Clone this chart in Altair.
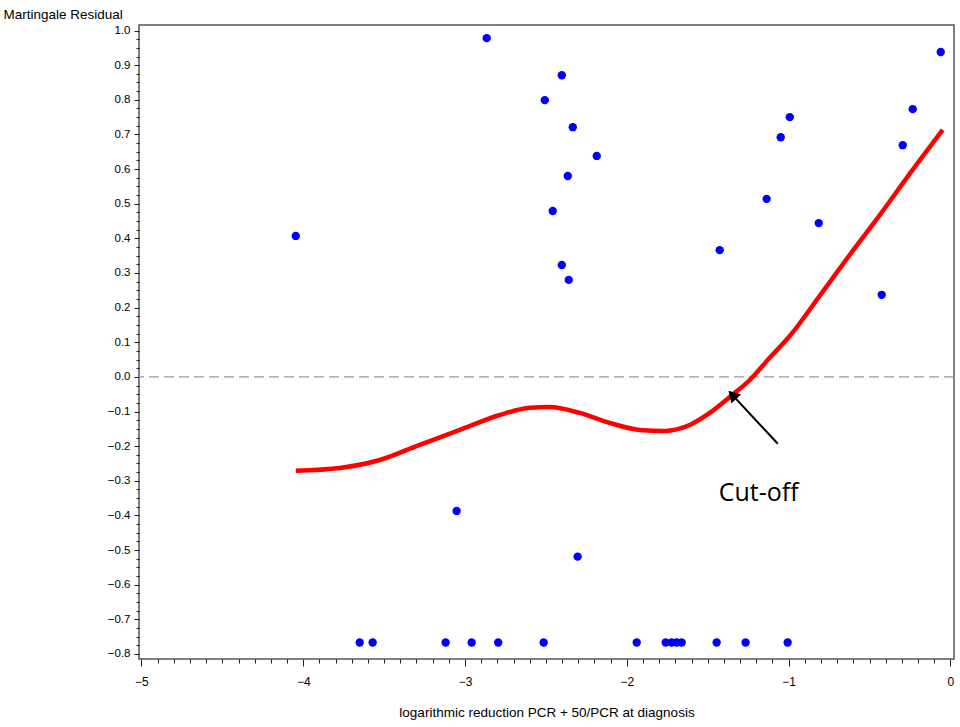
import altair as alt
import pandas as pd

# ---- data ----
pt_x = [-4.046, -2.866, -2.402, -2.507, -2.334, -2.186, -2.365, -2.458, -2.402, -2.359,
        -1.426, -1.136, -1.049, -0.993, -0.814, -0.425, -0.295, -0.233, -0.060,
        -3.052, -2.304,
        -3.651, -3.571, -3.120, -2.959, -2.795, -2.514, -1.939, -1.760, -1.723,
        -1.692, -1.661, -1.445, -1.266, -1.006]
pt_y = [0.407, 0.978, 0.871, 0.799, 0.721, 0.638, 0.580, 0.479, 0.323, 0.280,
        0.366, 0.514, 0.692, 0.750, 0.444, 0.237, 0.669, 0.773, 0.938,
        -0.387, -0.519,
        -0.767, -0.767, -0.767, -0.767, -0.767, -0.767, -0.767, -0.767, -0.767,
        -0.767, -0.767, -0.767, -0.767, -0.767]

curve_x = [-4.046, -3.774, -3.527, -3.280, -3.032, -2.785, -2.600, -2.477, -2.291,
           -2.106, -1.921, -1.767, -1.612, -1.488, -1.364, -1.240, -1.117, -0.993,
           -0.808, -0.623, -0.437, -0.252, -0.048]
curve_y = [-0.271, -0.263, -0.240, -0.196, -0.153, -0.110, -0.089, -0.087, -0.104,
           -0.133, -0.153, -0.156, -0.139, -0.104, -0.058, -0.009, 0.055, 0.118,
           0.234, 0.352, 0.467, 0.586, 0.713]

zero_line = [0.0]

arrow_tail = [-1.067, -0.193]
arrow_head = [-1.348, -0.052]
arrow_angle = [317]
label_text = ["Cut-off"]
label_pos = [-1.185, -0.358]

x_major = [-5, -4, -3, -2, -1, 0]
x_minor = [round(-5 + i * 0.1, 1) for i in range(51) if i % 10 != 0]
y_major = [round(-0.8 + i * 0.1, 1) for i in range(19)]
y_minor = [round(-0.8 + i * 0.025, 3) for i in range(73) if i % 4 != 0]

x_title = "logarithmic reduction PCR + 50/PCR at diagnosis"
y_title = "Martingale Residual"

# ---- tables ----
pts = pd.DataFrame({"x": pt_x, "y": pt_y})
crv = pd.DataFrame({"x": curve_x, "y": curve_y})
zero = pd.DataFrame({"y": zero_line})
arrow = pd.DataFrame({"x": [arrow_tail[0]], "y": [arrow_tail[1]],
                      "x2": [arrow_head[0]], "y2": [arrow_head[1]]})
head = pd.DataFrame({"x": [arrow_head[0]], "y": [arrow_head[1]], "a": arrow_angle})
lab = pd.DataFrame({"x": [label_pos[0]], "y": [label_pos[1]], "t": label_text})

xs = alt.Scale(domain=[-5.015, 0.022], nice=False, zero=False)
ys = alt.Scale(domain=[-0.8145, 1.016], nice=False, zero=False)

FONT = "Liberation Sans"

ax_x_major = alt.Axis(values=x_major, format="d", orient="bottom", tickSize=7,
                      labelPadding=10, labelFontSize=12, labelFont=FONT,
                      labelColor="black", tickColor="#222", labelFlush=False,
                      labelOverlap=False, domain=False, grid=False,
                      title=x_title, titleFont=FONT, titleFontSize=13.5,
                      titleFontWeight="normal", titleColor="black",
                      titleY=53, titleBaseline="middle")
ax_x_minor = alt.Axis(values=x_minor, orient="bottom", tickSize=4, labels=False,
                      tickColor="#222", domain=False, grid=False, title=None)
ax_y_major = alt.Axis(values=y_major, format=".1f", orient="left", tickSize=5,
                      labelPadding=4, labelFontSize=11.5, labelFont=FONT,
                      labelColor="black", tickColor="#222", labelFlush=False,
                      labelOverlap=False, domain=False, grid=False,
                      title=y_title, titleFont=FONT, titleFontSize=13.5,
                      titleFontWeight="normal", titleColor="black",
                      titleAngle=0, titleAlign="left", titleBaseline="middle",
                      titleX=-136, titleY=-11)
ax_y_minor = alt.Axis(values=y_minor, orient="left", tickSize=3, labels=False,
                      tickColor="#222", domain=False, grid=False, title=None)

zero_layer = alt.Chart(zero).mark_rule(color="#999999", strokeDash=[10, 5],
                                       strokeWidth=1.2).encode(
    y=alt.Y("y:Q", scale=ys, axis=None))

curve_layer = alt.Chart(crv).mark_line(color="#ff0000", strokeWidth=4.5,
                                       interpolate="monotone").encode(
    x=alt.X("x:Q", scale=xs, axis=ax_x_minor),
    y=alt.Y("y:Q", scale=ys, axis=ax_y_minor))

pts_layer = alt.Chart(pts).mark_circle(color="#0000ff", size=70, opacity=1).encode(
    x=alt.X("x:Q", scale=xs, axis=ax_x_major),
    y=alt.Y("y:Q", scale=ys, axis=ax_y_major))

shaft_layer = alt.Chart(arrow).mark_rule(color="black", strokeWidth=2).encode(
    x=alt.X("x:Q", scale=xs, axis=None), y=alt.Y("y:Q", scale=ys, axis=None),
    x2="x2:Q", y2="y2:Q")

head_layer = alt.Chart(head).mark_point(shape="triangle-up", filled=True,
                                        color="black", size=170, opacity=1).encode(
    x=alt.X("x:Q", scale=xs, axis=None), y=alt.Y("y:Q", scale=ys, axis=None),
    angle=alt.Angle("a:Q", scale=None))

text_layer = alt.Chart(lab).mark_text(font="Open Sans", fontSize=25, color="black",
                                      align="center", baseline="alphabetic").encode(
    x=alt.X("x:Q", scale=xs, axis=None), y=alt.Y("y:Q", scale=ys, axis=None),
    text="t:N")

chart = alt.layer(zero_layer, curve_layer, pts_layer, shaft_layer, head_layer,
                  text_layer).resolve_axis(x="independent", y="independent").properties(
    width=815, height=634,
    padding={"left": 139, "top": 25, "right": 6, "bottom": 68},
    autosize=alt.AutoSizeParams(type="none"),
    background="white",
).configure_view(stroke="#555555", strokeWidth=1.5)

chart.save("out.html", embed_options={"renderer": "svg", "actions": False})
